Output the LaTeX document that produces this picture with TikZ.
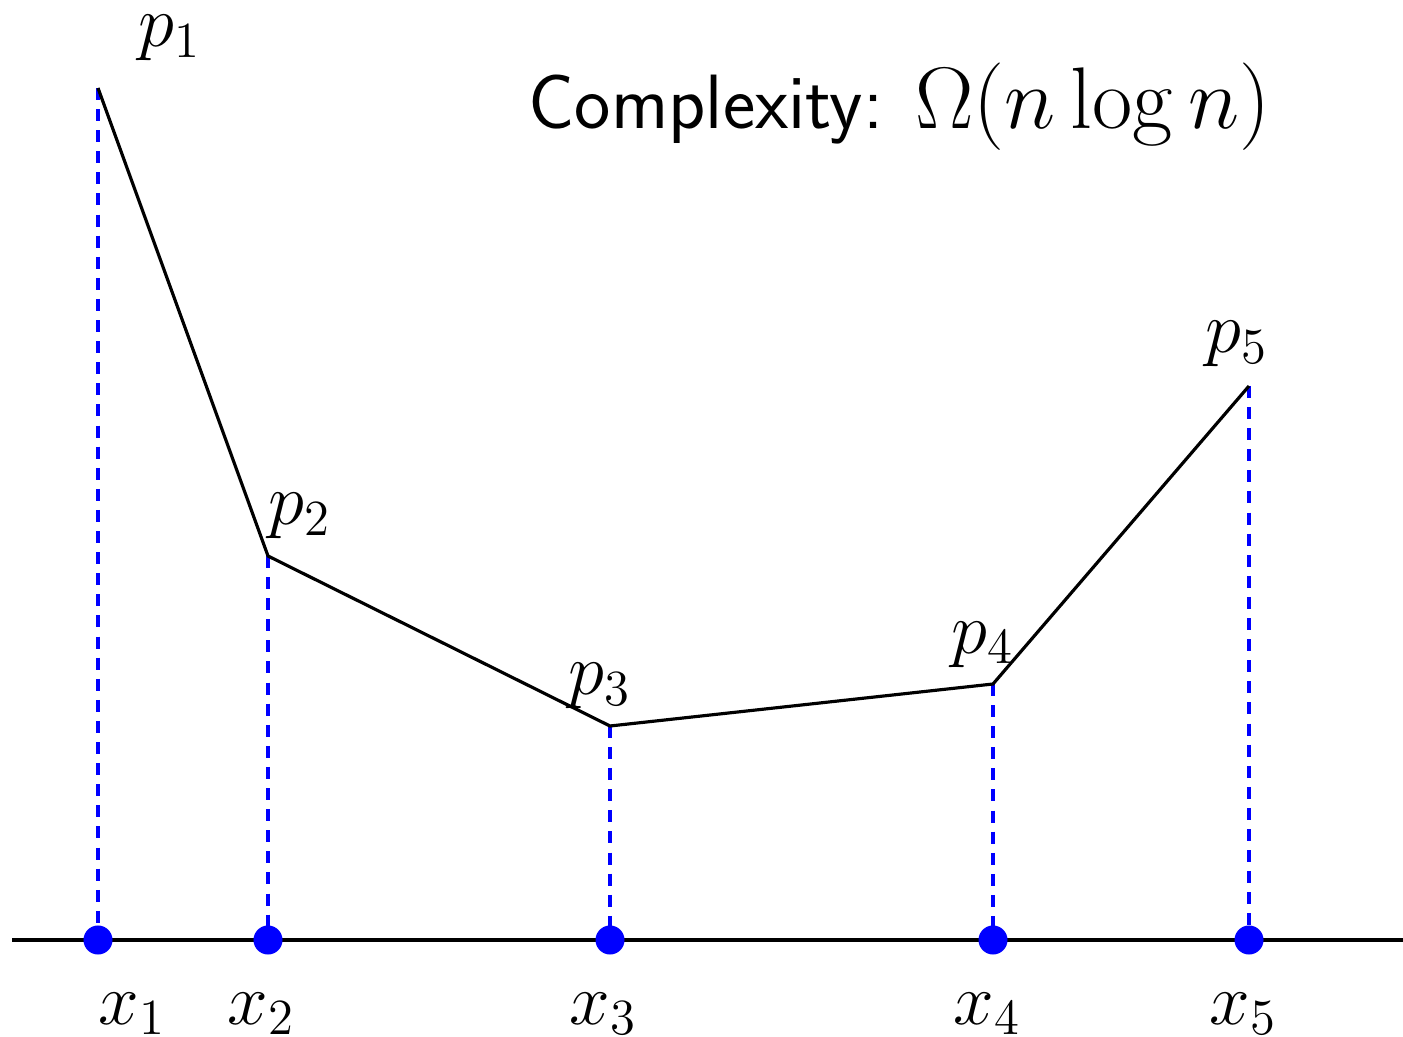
\documentclass[tikz,border=0pt]{standalone}
\begin{document}
\begin{tikzpicture}[x=0.01cm,y=-0.01cm,
  curve/.style={line width=0.9pt,black},
  axisline/.style={line width=0.9pt,black},
  guide/.style={blue,line width=0.9pt,dash pattern=on 3.4pt off 2.6pt},
  dot/.style={circle,fill=blue,inner sep=0pt,minimum size=0.29cm},
  lbl/.style={font=\fontsize{22.4}{27}\selectfont,inner sep=0pt,anchor=base}]
\useasboundingbox (0,0) rectangle (1403,1037);
% points
\coordinate (p1) at (98,88);
\coordinate (p2) at (268,556);
\coordinate (p3) at (610,726);
\coordinate (p4) at (993,684);
\coordinate (p5) at (1249,386);
\coordinate (L) at (12,940);
\coordinate (R) at (1403,940);
% axis
\draw[axisline] (L) -- (R);
% guides
\foreach \i in {1,...,5}{
  \draw[guide] (p\i) -- (p\i |- L);
}
% curve
\draw[curve,line join=miter] (p1) -- (p2) -- (p3) -- (p4) -- (p5);
% dots
\foreach \i in {1,...,5}{
  \node[dot] (x\i) at (p\i |- L) {};
}
% labels
\node[lbl] (lp1) at (170,47) {$p_1$};
\node[lbl] (lp2) at (300,525) {$p_2$};
\node[lbl] (lp3) at (600,695) {$p_3$};
\node[lbl] (lp4) at (983,653) {$p_4$};
\node[lbl] (lp5) at (1237,353) {$p_5$};
\node[lbl] (lx1) at (132,1024) {$x_1$};
\node[lbl] (lx2) at (261,1024) {$x_2$};
\node[lbl] (lx3) at (603,1024) {$x_3$};
\node[lbl] (lx4) at (987,1024) {$x_4$};
\node[lbl] (lx5) at (1243,1024) {$x_5$};
\node[lbl,anchor=base west,font=\fontsize{23}{28}\selectfont] (title) at (528,129)
  {{\fontsize{21.9}{26}\selectfont\sffamily Complexity: }$\Omega(n\log n)$};
\end{tikzpicture}
\end{document}
